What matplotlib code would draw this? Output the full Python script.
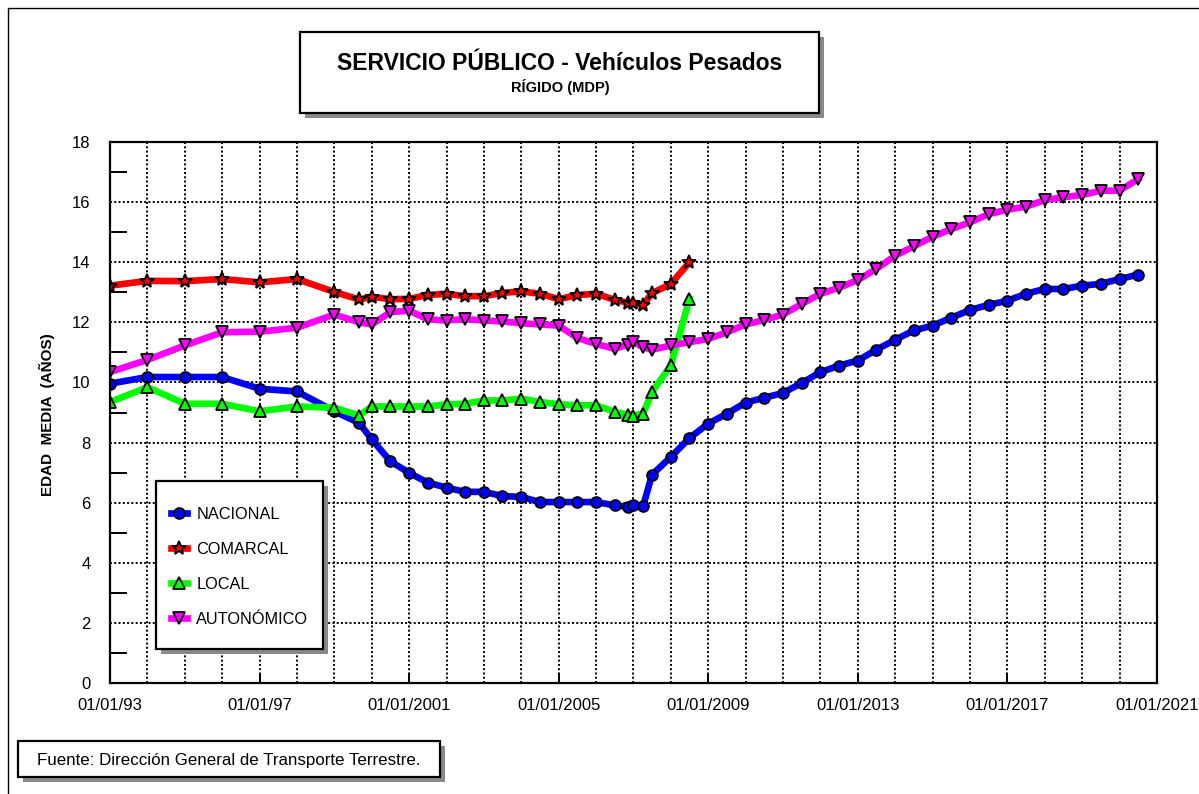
import matplotlib
matplotlib.use("Agg")
import matplotlib.pyplot as plt
import matplotlib.dates as mdates
from matplotlib.patches import Rectangle
from matplotlib.ticker import MultipleLocator
import pandas as pd

# fechas de las observaciones (anuales, luego semestrales)
fechas = pd.to_datetime([
    "1993-01-01", "1994-01-01", "1995-01-01", "1996-01-01", "1997-01-01",
    "1998-01-01", "1999-01-01", "1999-09-01", "2000-01-01", "2000-07-01",
    "2001-01-01", "2001-07-01", "2002-01-01", "2002-07-01", "2003-01-01",
    "2003-07-01", "2004-01-01", "2004-07-01", "2005-01-01", "2005-07-01",
    "2006-01-01", "2006-07-01", "2006-11-10", "2007-01-01", "2007-04-05",
    "2007-07-01", "2008-01-01", "2008-07-01", "2009-01-01", "2009-07-01",
    "2010-01-01", "2010-07-01", "2011-01-01", "2011-07-01", "2012-01-01",
    "2012-07-01", "2013-01-01", "2013-07-01", "2014-01-01", "2014-07-01",
    "2015-01-01", "2015-07-01", "2016-01-01", "2016-07-01", "2017-01-01",
    "2017-07-01", "2018-01-01", "2018-07-01", "2019-01-01", "2019-07-01",
    "2020-01-01", "2020-07-01",
])

nacional = [
    9.96, 10.18, 10.18, 10.18, 9.79, 9.70, 9.04, 8.65, 8.11, 7.38,
    6.99, 6.67, 6.50, 6.36, 6.36, 6.22, 6.19, 6.02, 6.02, 6.02,
    6.02, 5.91, 5.86, 5.91, 5.88, 6.93, 7.52, 8.15, 8.63, 8.96,
    9.33, 9.49, 9.65, 9.98, 10.34, 10.56, 10.73, 11.09, 11.42, 11.73,
    11.89, 12.15, 12.41, 12.58, 12.72, 12.95, 13.11, 13.11, 13.22, 13.28,
    13.44, 13.59,
]
comarcal = [
    13.22, 13.38, 13.37, 13.44, 13.33, 13.44, 13.01, 12.76, 12.85, 12.77,
    12.78, 12.91, 12.95, 12.87, 12.87, 12.98, 13.03, 12.95, 12.77, 12.91,
    12.95, 12.75, 12.65, 12.65, 12.58, 12.97, 13.28, 14.00,
]
local = [
    9.35, 9.84, 9.29, 9.29, 9.04, 9.20, 9.16, 8.90, 9.20, 9.20,
    9.20, 9.20, 9.27, 9.29, 9.40, 9.40, 9.46, 9.35, 9.27, 9.24,
    9.24, 9.02, 8.93, 8.90, 8.96, 9.68, 10.57, 12.78,
]
autonomico = [
    10.35, 10.75, 11.23, 11.67, 11.69, 11.82, 12.26, 12.00, 11.93, 12.34,
    12.39, 12.10, 12.06, 12.11, 12.06, 12.03, 11.97, 11.93, 11.89, 11.48,
    11.28, 11.12, 11.26, 11.34, 11.17, 11.09, 11.23, 11.34, 11.45, 11.67,
    11.93, 12.08, 12.26, 12.61, 12.95, 13.15, 13.41, 13.78, 14.22, 14.53,
    14.85, 15.10, 15.33, 15.60, 15.75, 15.85, 16.07, 16.16, 16.24, 16.38,
    16.38, 16.77,
]

tick_fechas = pd.to_datetime(["1993-01-01", "1997-01-01", "2001-01-01", "2005-01-01",
                              "2009-01-01", "2013-01-01", "2017-01-01", "2021-01-01"])
tick_labels = ["01/01/93", "01/01/97", "01/01/2001", "01/01/2005",
               "01/01/2009", "01/01/2013", "01/01/2017", "01/01/2021"]

plt.rcParams["font.family"] = ["Liberation Sans", "DejaVu Sans"]

W, H = 1199, 794
fig = plt.figure(figsize=(W / 100, H / 100), dpi=100)
ax = fig.add_axes([110 / W, 1 - 683 / H, (1157 - 110) / W, (683 - 142) / H])


def caja(x0, y0, x1, y1, parent, zorder=1):
    """Caja blanca con sombra gris, coordenadas en píxeles (y hacia abajo)."""
    kw = dict(transform=fig.transFigure, clip_on=False, zorder=zorder)
    sombra = Rectangle(((x0 + 5) / W, 1 - (y1 + 5) / H), (x1 - x0) / W, (y1 - y0) / H,
                       facecolor="#8a8a8a", edgecolor="none", **kw)
    marco = Rectangle((x0 / W, 1 - y1 / H), (x1 - x0) / W, (y1 - y0) / H,
                      facecolor="white", edgecolor="black", linewidth=1.6, **kw)
    if parent is fig:
        fig.add_artist(sombra)
        fig.add_artist(marco)
    else:
        parent.add_patch(sombra)
        parent.add_patch(marco)


# marco exterior
fig.add_artist(Rectangle((8 / W, -0.2), 2, 1.2 - 8 / H, transform=fig.transFigure,
                         fill=False, edgecolor="black", linewidth=1.0))

estilo = dict(linewidth=4.8, markeredgecolor="black", markeredgewidth=1.3)
ax.plot(fechas, nacional, color="#0000ff", marker="o", markersize=7.8,
        markerfacecolor="#0000ff", label="NACIONAL", **estilo)
ax.plot(fechas[:len(comarcal)], comarcal, color="#ff0000", marker="*", markersize=10.5,
        markerfacecolor="#ff0000", label="COMARCAL", **estilo)
ax.plot(fechas[:len(local)], local, color="#00ff00", marker="^", markersize=8.3,
        markerfacecolor="#00ff00", label="LOCAL", **estilo)
ax.plot(fechas, autonomico, color="#ff00ff", marker="v", markersize=8.3,
        markerfacecolor="#ff00ff", label="AUTONÓMICO", **estilo)

ax.set_xlim(pd.Timestamp("1993-01-01"), pd.Timestamp("2021-01-01"))
ax.set_ylim(0, 18)

ax.set_xticks(tick_fechas)
ax.set_xticklabels(tick_labels)
ax.xaxis.set_minor_locator(mdates.YearLocator(1))
ax.xaxis.remove_overlapping_locs = False
ax.yaxis.set_major_locator(MultipleLocator(2))
ax.yaxis.set_minor_locator(MultipleLocator(1))

ax.tick_params(axis="x", which="major", direction="in", length=7, width=1.4,
               pad=11, labelsize=12)
ax.tick_params(axis="x", which="minor", length=0)
ax.tick_params(axis="y", which="major", direction="in", length=0, pad=14, labelsize=12)
ax.tick_params(axis="y", which="minor", direction="in", length=12, width=1.4)

punteado = dict(color="black", linestyle=(0, (1, 1.2)), linewidth=1.4)
ax.grid(which="minor", axis="x", **punteado)
ax.grid(which="major", axis="y", **punteado)
ax.set_axisbelow(True)

for s in ax.spines.values():
    s.set_linewidth(1.6)
    s.set_color("black")

fig.text(47 / W, 1 - 415 / H, "EDAD  MEDIA  (AÑOS)", rotation=90, ha="center",
         va="center", fontsize=11, fontweight="bold")

# leyenda con caja propia
caja(156, 481, 323, 649, ax, zorder=8)
leg = ax.legend(loc="upper left", bbox_to_anchor=(163 / W, 1 - 499 / H),
                bbox_transform=fig.transFigure, frameon=False, borderpad=0,
                fontsize=11.7, handlelength=1.0, handletextpad=0.55, labelspacing=1.22)
leg.set_zorder(10)

# título
caja(300, 32, 819, 113, fig)
fig.text(560 / W, 1 - 63 / H, "SERVICIO PÚBLICO - Vehículos Pesados", ha="center",
         va="center", fontsize=16.5, fontweight="bold", zorder=5)
fig.text(560 / W, 1 - 87 / H, "RÍGIDO (MDP)", ha="center", va="center",
         fontsize=10.5, fontweight="bold", zorder=5)

# fuente
caja(18, 741, 440, 777, fig)
fig.text(37 / W, 1 - 760 / H, "Fuente: Dirección General de Transporte Terrestre.",
         ha="left", va="center", fontsize=12.2, zorder=5)

fig.savefig("out.png", dpi=100)
plt.close(fig)
